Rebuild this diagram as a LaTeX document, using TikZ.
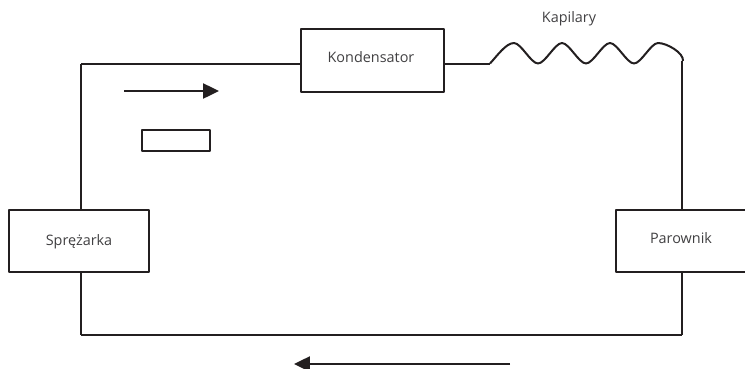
\documentclass[tikz,border=0pt]{standalone}
\usepackage{fontspec}
\setmainfont{Open Sans}
\usetikzlibrary{arrows.meta}
\definecolor{linec}{RGB}{35,31,32}
\definecolor{textc}{RGB}{65,64,66}

\begin{document}
\begin{tikzpicture}[x=.02cm, y=-.02cm, draw=linec, line width=.4mm, line join=round]
		\tikzstyle{unit}=[rectangle,line width=.4mm,draw=linec,fill=white,inner sep=0pt,
		minimum height=1.25cm]
		\tikzstyle{annot}=[text=textc,font=\fontsize{8.2}{10}\selectfont,inner sep=0pt]
		\tikzstyle{pipe}=[line width=.4mm]
		\tikzstyle{flow}=[line width=.5mm, -{Triangle[length=.32cm,width=.3cm]}]

		\useasboundingbox (0,0) rectangle (745,369);

		\node[unit, minimum width=2.81cm](sprezarka) at (79.25,240.75) {};
		\node[unit, minimum width=2.86cm](kondensator) at (372.5,60.5) {};
		\node[unit, minimum width=2.9cm](parownik) at (688,240.75) {};
		\node[unit, minimum width=1.36cm, minimum height=.42cm](box) at (176,140.5) {};

		\node[annot] (t1) at (79,242) {Sprężarka};
		\node[annot] (t2) at (371,57) {Kondensator};
		\node[annot] (t3) at (681,238) {Parownik};
		\node[annot] (t4) at (569,18.5) {Kapilary};

		\coordinate (c1) at (81,64);
		\coordinate (c2) at (81,334.5);
		\coordinate (c3) at (681.5,334.5);
		\coordinate (w0) at (490,63.5);
		\coordinate (w1) at (683,61);
		\coordinate (a1) at (124,91);
		\coordinate (a2) at (219,91);
		\coordinate (a3) at (510,364);
		\coordinate (a4) at (294,364);

		% Pipes
		\path (sprezarka.north -| c1) edge [pipe] (c1);
		\path (c1) edge [pipe] (kondensator.west |- c1);
		\path (sprezarka.south -| c1) edge [pipe] (c2);
		\path (c2) edge [pipe] (c3);
		\path (c3) edge [pipe] (parownik.south -| c3);
		\path (parownik.north -| c3) edge [pipe] (c3 |- w1);
		\path (kondensator.east |- w0) edge [pipe] (w0);

		% Capillary
		\draw[pipe] (w0) .. controls (497,56) and (506,43) .. (514,43)
			.. controls (521,43) and (531,63.5) .. (538,63.5)
			.. controls (545,63.5) and (555,43) .. (562,43)
			.. controls (569,43) and (579,63.5) .. (586,63.5)
			.. controls (593,63.5) and (603,43) .. (610,43)
			.. controls (617,43) and (627,63.5) .. (634,63.5)
			.. controls (641,63.5) and (651,43) .. (658,43)
			.. controls (667,43) and (684,53) .. (w1);

		% Flow direction
		\path (a1) edge [flow] (a2);
		\path (a3) edge [flow] (a4);
\end{tikzpicture}
\end{document}
